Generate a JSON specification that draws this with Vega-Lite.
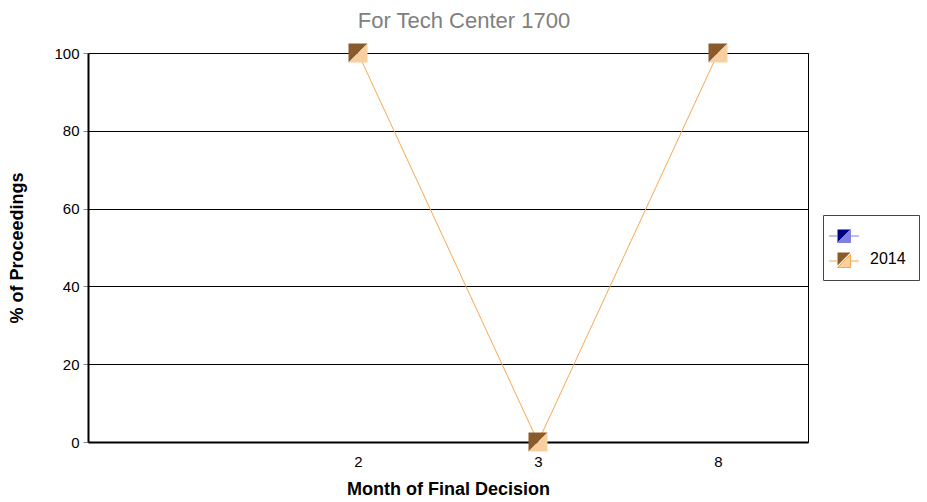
{
  "$schema": "https://vega.github.io/schema/vega-lite/v6.json",
  "width": 720,
  "height": 389,
  "autosize": {"type": "none"},
  "padding": {"left": 88, "top": 53, "right": 119, "bottom": 60},
  "background": "white",
  "config": {
    "font": "Liberation Sans",
    "view": {"stroke": "black", "strokeWidth": 1}
  },
  "title": {
    "text": "For Tech Center 1700",
    "fontSize": 22,
    "font": "Liberation Sans",
    "fontWeight": "normal",
    "color": "#808080",
    "anchor": "middle",
    "dx": 16,
    "offset": 11
  },
  "data": {
    "values": [
      {"month": "2", "pct": 100, "series": "2014"},
      {"month": "3", "pct": 0, "series": "2014"},
      {"month": "8", "pct": 100, "series": "2014"}
    ]
  },
  "encoding": {
    "x": {
      "field": "month",
      "type": "ordinal",
      "scale": {"type": "point", "domain": ["blank", "2", "3", "8"], "padding": 0.5},
      "axis": {
        "title": "Month of Final Decision",
        "labelExpr": "datum.value == 'blank' ? '' : datum.value",
        "labelAngle": 0,
        "labelFontSize": 15,
        "labelColor": "black",
        "labelPadding": 12,
        "ticks": false,
        "domainColor": "black",
        "domainWidth": 2,
        "titleFontSize": 18,
        "titleFontWeight": "bold",
        "titleColor": "black",
        "titlePadding": 11,
        "grid": false
      }
    },
    "y": {
      "field": "pct",
      "type": "quantitative",
      "scale": {"domain": [0, 100]},
      "axis": {
        "title": "% of Proceedings",
        "values": [0, 20, 40, 60, 80, 100],
        "labelFontSize": 15,
        "labelColor": "black",
        "labelPadding": 4,
        "tickColor": "#888888",
        "tickSize": 5,
        "domainColor": "black",
        "domainWidth": 2,
        "gridColor": "black",
        "gridOpacity": 1,
        "gridWidth": 1,
        "titleFontSize": 18,
        "titleFontWeight": "bold",
        "titleColor": "black",
        "titlePadding": 27
      }
    }
  },
  "layer": [
    {
      "mark": {"type": "line", "color": "#F5A953", "strokeWidth": 1},
      "encoding": {"detail": {"field": "series"}}
    },
    {
      "mark": {"type": "point", "shape": "M-1,-1L1,-1L-1,1Z", "filled": true, "size": 361, "opacity": 1, "strokeWidth": 0},
      "encoding": {
        "fill": {
          "field": "series",
          "type": "nominal",
          "scale": {"domain": ["blank", "2014"], "range": ["#000080", "#8B5A2B"]},
          "legend": {
            "title": null,
            "orient": "none",
            "legendX": 735,
            "legendY": 162,
            "padding": 13,
            "fillColor": "white",
            "strokeColor": "#444444",
            "symbolType": "M-1,-1L1,-1L-1,1Z",
            "symbolSize": 169,
            "symbolStrokeWidth": 0,
            "symbolOpacity": 1,
            "labelExpr": "datum.value == 'blank' ? '' : datum.value",
            "labelFontSize": 16,
            "labelColor": "black",
            "labelOffset": 18,
            "rowPadding": 7,
            "zindex": 0
          }
        }
      }
    },
    {
      "mark": {"type": "point", "shape": "M1,-1L1,1L-1,1Z", "filled": true, "size": 361, "opacity": 1, "strokeWidth": 0},
      "encoding": {
        "fill": {
          "field": "series",
          "type": "nominal",
          "scale": {"domain": ["blank", "2014"], "range": ["#8080E0", "#F8CFA0"]},
          "legend": {
            "title": null,
            "orient": "none",
            "legendX": 735,
            "legendY": 162,
            "padding": 13,
            "symbolType": "M1,-1L1,1L-1,1Z M-2.3,0L-1,0 M1,0L2.3,0",
            "symbolSize": 169,
            "symbolStrokeWidth": 1,
            "symbolOpacity": 1,
            "labelExpr": "''",
            "labelFontSize": 16,
            "labelColor": "black",
            "labelOffset": 18,
            "rowPadding": 7,
            "zindex": 1,
            "encode": {
              "symbols": {
                "update": {
                  "stroke": {"signal": "datum.value == 'blank' ? '#8080E0' : '#F5A953'"}
                }
              }
            }
          }
        }
      }
    }
  ],
  "resolve": {"scale": {"fill": "independent"}, "legend": {"fill": "independent"}}
}
